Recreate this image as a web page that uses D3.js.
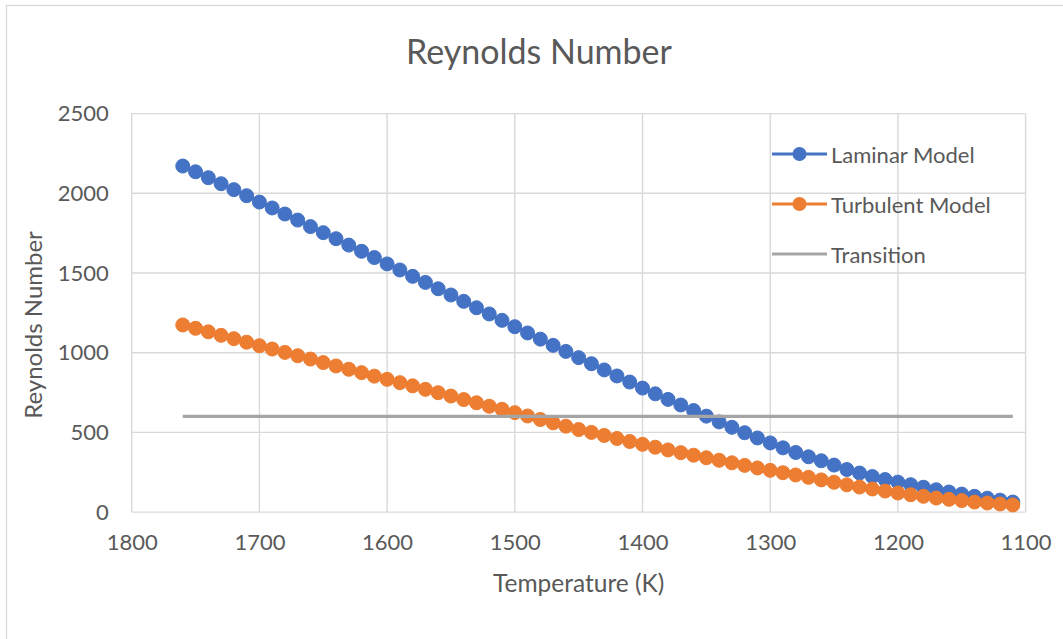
<!DOCTYPE html>
<html>
<head>
<meta charset="utf-8">
<script src="https://cdn.jsdelivr.net/npm/d3@7"></script>
<style>
  html, body { margin: 0; padding: 0; background: #ffffff; }
  svg { display: block; }
  text { font-family: Lato, "Open Sans", sans-serif; fill: #595959; }
</style>
</head>
<body>
<svg id="chart" width="1063" height="639"></svg>
<script>
// ---- Data ----
const temperatures = [1760,1750,1740,1730,1720,1710,1700,1690,1680,1670,1660,1650,1640,1630,1620,1610,1600,1590,1580,1570,1560,1550,1540,1530,1520,1510,1500,1490,1480,1470,1460,1450,1440,1430,1420,1410,1400,1390,1380,1370,1360,1350,1340,1330,1320,1310,1300,1290,1280,1270,1260,1250,1240,1230,1220,1210,1200,1190,1180,1170,1160,1150,1140,1130,1120,1110];
const laminarModel = [2171,2135,2098,2060,2023,1985,1945,1908,1870,1832,1791,1753,1715,1675,1636,1597,1557,1519,1479,1441,1401,1362,1322,1282,1243,1203,1163,1124,1085,1046,1008,969,931,892,854,816,778,742,707,672,637,602,566,532,498,465,434,403,374,347,322,295,267,245,223,204,188,172,156,140,126,113,99,87,75,63];
const turbulentModel = [1174,1153,1131,1109,1088,1066,1044,1023,1002,981,960,938,917,896,875,853,833,812,792,770,749,728,706,686,664,645,624,603,581,560,539,518,500,481,462,443,425,407,390,373,357,341,325,309,293,277,262,247,233,218,202,187,171,157,145,132,120,109,99,88,80,72,63,57,51,45];
const transitionTemps = [1760, 1110];
const transitionValues = [600, 600];
const xTicks = [1800,1700,1600,1500,1400,1300,1200,1100];
const yTicks = [0,500,1000,1500,2000,2500];
const seriesNames = ["Laminar Model", "Turbulent Model", "Transition"];
const seriesColors = ["#4472c4", "#ed7d31", "#a5a5a5"];
const chartTitle = "Reynolds Number";
const xTitle = "Temperature (K)";
const yTitle = "Reynolds Number";

// ---- Layout ----
const svg = d3.select("#chart");
const plot = { left: 131.7, right: 1025.6, top: 113.6, bottom: 512.1 };
const x = d3.scaleLinear().domain([1800, 1100]).range([plot.left, plot.right]);
const y = d3.scaleLinear().domain([0, 2500]).range([plot.bottom, plot.top]);

// chart border
svg.append("rect").attr("x", 6.5).attr("y", 5.5).attr("width", 1100).attr("height", 700)
  .attr("fill", "#ffffff").attr("stroke", "#d9d9d9").attr("stroke-width", 1.3);

// title
svg.append("text").attr("x", 539).attr("y", 50).attr("text-anchor", "middle")
  .attr("dominant-baseline", "central").style("font-size", "34px").text(chartTitle);

// gridlines
const grid = svg.append("g").attr("stroke", "#d9d9d9").attr("stroke-width", 1.4);
grid.selectAll("line.h").data(yTicks).join("line").attr("class", "h")
  .attr("x1", plot.left).attr("x2", plot.right)
  .attr("y1", d => y(d)).attr("y2", d => y(d));
grid.selectAll("line.v").data(xTicks).join("line").attr("class", "v")
  .attr("y1", plot.top).attr("y2", plot.bottom)
  .attr("x1", d => x(d)).attr("x2", d => x(d));

// axes (labels only)
const xAxis = svg.append("g").attr("transform", `translate(0,${plot.bottom})`)
  .call(d3.axisBottom(x).tickValues(xTicks).tickSize(0).tickPadding(22).tickFormat(d3.format("d")));
xAxis.select(".domain").remove();
xAxis.selectAll("text").style("font-size", "22px").attr("fill", "#595959");

const yAxis = svg.append("g").attr("transform", `translate(${plot.left},0)`)
  .call(d3.axisLeft(y).tickValues(yTicks).tickSize(0).tickPadding(23).tickFormat(d3.format("d")));
yAxis.select(".domain").remove();
yAxis.selectAll("text").style("font-size", "22px").attr("fill", "#595959");

// axis titles
svg.append("text").attr("x", (plot.left + plot.right) / 2).attr("y", 582)
  .attr("text-anchor", "middle").attr("dominant-baseline", "central")
  .style("font-size", "24.5px").text(xTitle);
svg.append("text").attr("transform", `translate(32,325) rotate(-90)`)
  .attr("text-anchor", "middle").attr("dominant-baseline", "central")
  .style("font-size", "24px").text(yTitle);

// series
const line = d3.line().x(d => x(d[0])).y(d => y(d[1]));
function drawMarkerSeries(vals, color) {
  const pts = temperatures.map((t, i) => [t, vals[i]]);
  const g = svg.append("g");
  g.append("path").datum(pts).attr("d", line).attr("fill", "none")
    .attr("stroke", color).attr("stroke-width", 3);
  g.selectAll("circle").data(pts).join("circle")
    .attr("cx", d => x(d[0])).attr("cy", d => y(d[1])).attr("r", 7)
    .attr("fill", color).attr("stroke", color).attr("stroke-width", 1);
}
drawMarkerSeries(laminarModel, seriesColors[0]);
drawMarkerSeries(turbulentModel, seriesColors[1]);
svg.append("path").datum(transitionTemps.map((t, i) => [t, transitionValues[i]]))
  .attr("d", line).attr("fill", "none").attr("stroke", seriesColors[2]).attr("stroke-width", 3.2);

// legend
const legendY = [154, 204, 254];
const lg = svg.append("g");
seriesNames.forEach((name, i) => {
  lg.append("line").attr("x1", 772).attr("x2", 827).attr("y1", legendY[i]).attr("y2", legendY[i])
    .attr("stroke", seriesColors[i]).attr("stroke-width", 3.2);
  if (i < 2) {
    lg.append("circle").attr("cx", 799.5).attr("cy", legendY[i]).attr("r", 7).attr("fill", seriesColors[i]);
  }
  lg.append("text").attr("x", 831).attr("y", legendY[i]).attr("dominant-baseline", "central")
    .style("font-size", "22px").text(name);
});
</script>
</body>
</html>
